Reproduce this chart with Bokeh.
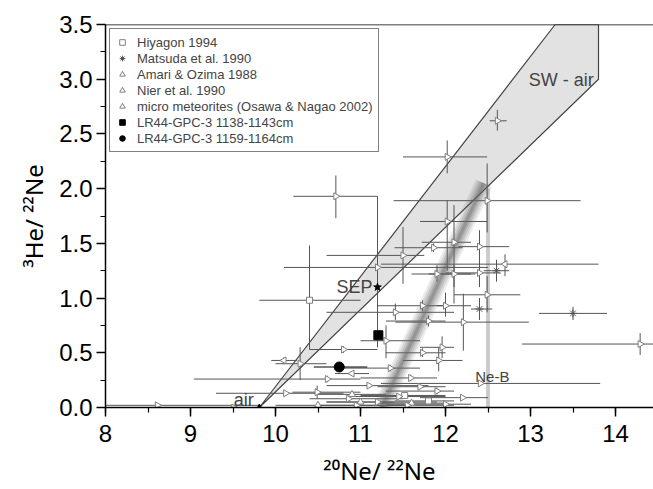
import numpy as np
from bokeh.plotting import figure
from bokeh.models import (Range1d, SingleIntervalTicker, PrintfTickFormatter, Label,
                          Legend, LegendItem, ColumnDataSource, Span)
from bokeh.embed import file_html
from bokeh.resources import INLINE

# ---------------- data ----------------
# micro meteorites (Osawa & Nagao 2002): x, y, error-bar ends
mm_x   = [10.71, 12.61, 12.02, 12.49, 12.02, 11.50, 12.10, 12.40, 12.40, 12.10, 11.90, 12.49, 14.29,
          11.41, 11.73, 12.00, 12.21, 11.80, 11.96, 11.73, 12.41, 12.20, 12.00, 11.92, 11.35, 11.59,
          11.90, 11.30, 10.80, 10.29, 10.61, 10.12, 10.49, 8.61, 9.51, 10.86, 11.86, 11.20,
          11.10, 11.45, 11.20, 11.70, 10.95, 11.55]
mm_y   = [1.93, 2.62, 2.29, 1.89, 1.70, 1.39, 1.51, 1.47, 1.23, 1.22, 1.22, 1.03, 0.58,
          0.87, 0.93, 0.93, 0.78, 0.79, 0.55, 0.50, 0.22, 0.09, 0.03, 0.43, 0.36, 0.27,
          0.15, 0.61, 0.53, 0.40, 0.26, 0.13, 0.14, 0.02, 0.00, 0.08, 1.46, 1.28,
          0.20, 0.10, 0.05, 0.19, 0.02, 0.02]
mm_xlo = [10.21, 12.52, 11.50, 11.39, 11.70, 10.60, 11.72, 12.15, 12.00, 11.60, 11.80, 12.10, 12.90,
          10.60, 11.20, 11.90, 11.41, 11.30, 11.70, 11.30, 11.24, 11.70, 11.30, 11.50, 10.80, 11.00,
          11.30, 11.00, 10.40, 10.00, 9.04, 9.30, 10.20, 8.00, 9.00, 10.40, 11.40, 10.10,
          10.60, 10.90, 10.60, 11.20, 10.50, 11.00]
mm_xhi = [11.20, 12.72, 12.49, 13.59, 12.49, 11.75, 12.30, 12.75, 12.65, 12.35, 12.30, 12.88, 14.60,
          12.10, 12.00, 12.30, 12.98, 12.00, 12.10, 12.00, 13.82, 12.50, 12.30, 12.20, 11.70, 11.90,
          12.10, 11.70, 11.20, 10.60, 11.00, 10.80, 11.00, 9.80, 10.00, 11.50, 12.20, 12.50,
          11.80, 12.00, 11.90, 12.00, 11.60, 12.10]
mm_ylo = [1.73, 2.53, 2.14, 1.60, 1.25, 1.13, 1.10, 1.30, 1.10, 0.95, 1.15, 0.87, 0.48,
          0.80, 0.88, 0.83, 0.52, 0.74, 0.45, 0.46, 0.20, 0.07, 0.01, 0.33, 0.33, 0.24,
          0.12, 0.45, 0.50, 0.25, 0.23, 0.11, 0.08, 0.01, 0.00, 0.06, 1.42, 0.55,
          0.18, 0.08, 0.03, 0.17, 0.00, 0.00]
mm_yhi = [2.12, 2.72, 2.44, 2.23, 1.89, 1.65, 1.85, 1.62, 1.35, 1.30, 1.30, 1.20, 0.68,
          0.95, 0.98, 1.05, 1.04, 0.84, 0.65, 0.54, 0.24, 0.11, 0.05, 0.55, 0.39, 0.30,
          0.18, 0.75, 0.56, 0.55, 0.29, 0.15, 0.20, 0.03, 0.02, 0.10, 1.50, 1.93,
          0.22, 0.12, 0.07, 0.21, 0.04, 0.04]

# Hiyagon 1994
hi_x   = [10.40, 11.52, 11.80]
hi_y   = [0.98, 0.11, 0.06]
hi_xlo = [9.81, 11.00, 11.40]
hi_xhi = [11.00, 12.00, 12.10]
hi_ylo = [0.53, 0.09, 0.04]
hi_yhi = [1.48, 0.13, 0.08]

# Matsuda et al. 1990
ma_x   = [13.50, 12.40, 12.60]
ma_y   = [0.86, 0.90, 1.25]
ma_xlo = [13.10, 12.30, 12.45]
ma_xhi = [13.90, 12.55, 12.75]
ma_ylo = [0.80, 0.80, 1.15]
ma_yhi = [0.92, 1.00, 1.35]

# Amari & Ozima 1988
am_x   = [10.50, 11.00, 11.60, 10.90]
am_y   = [0.02, 0.05, 0.04, 0.12]
am_xlo = [10.00, 10.60, 11.20, 10.50]
am_xhi = [11.00, 11.40, 12.00, 11.30]
am_ylo = [0.00, 0.03, 0.02, 0.10]
am_yhi = [0.04, 0.07, 0.06, 0.14]

# Nier et al. 1990
ni_x   = [12.70, 10.90, 10.10]
ni_y   = [1.31, 0.31, 0.43]
ni_xlo = [11.24, 10.70, 9.95]
ni_xhi = [13.80, 11.10, 10.25]
ni_ylo = [1.20, 0.29, 0.40]
ni_yhi = [1.40, 0.33, 0.46]

# LR44-GPC-3 samples
lr1_x, lr1_y = [11.21], [0.66]
lr2_x, lr2_y = [10.75], [0.37]
lr2_xlo, lr2_xhi = [10.45], [11.08]

# end members / reference lines
air_x, air_y = [9.81], [0.0]
sep_x, sep_y = [11.20], [1.10]
sw_x = [9.81, 13.29, 13.80, 13.80]
sw_y = [0.0, 3.5, 3.5, 3.0]
frac_x = [11.25, 12.45]
frac_y = [0.0, 2.05]
neb_x = [12.5, 12.5]
neb_y = [0.0, 2.0]

x_title = "\u00b2\u2070Ne/ \u00b2\u00b2Ne"
y_title = "\u00b3He/ \u00b2\u00b2Ne"

FONT = "Liberation Sans"
TFONT = "Noto Sans"

p = figure(width=653, height=489, output_backend="svg", toolbar_location=None,
           x_range=Range1d(8, 14.447), y_range=Range1d(0, 3.5),
           min_border_left=105, min_border_right=0, min_border_top=24, min_border_bottom=82)
p.grid.visible = False
p.outline_line_color = None
p.background_fill_color = "white"
p.border_fill_color = "white"

# SW - air band
p.patch(sw_x, sw_y, fill_color="#e2e2e2", line_color="#444444", line_width=1.2)

# Ne-B strip
p.line(neb_x, neb_y, line_color="#cccccc", line_width=4)

ERR = "#555555"
MK = "#808080"

def add_series(x, y, xlo, xhi, ylo, yhi):
    src = ColumnDataSource(dict(x=x, y=y, xlo=xlo, xhi=xhi, ylo=ylo, yhi=yhi))
    p.segment(x0="xlo", y0="y", x1="xhi", y1="y", source=src, line_color=ERR, line_width=1)
    p.segment(x0="x", y0="ylo", x1="x", y1="yhi", source=src, line_color=ERR, line_width=1)
    return src

s_mm = add_series(mm_x, mm_y, mm_xlo, mm_xhi, mm_ylo, mm_yhi)
s_hi = add_series(hi_x, hi_y, hi_xlo, hi_xhi, hi_ylo, hi_yhi)
s_ma = add_series(ma_x, ma_y, ma_xlo, ma_xhi, ma_ylo, ma_yhi)
s_am = add_series(am_x, am_y, am_xlo, am_xhi, am_ylo, am_yhi)
s_ni = add_series(ni_x, ni_y, ni_xlo, ni_xhi, ni_ylo, ni_yhi)
p.segment(x0=lr2_xlo, y0=lr2_y, x1=lr2_xhi, y1=lr2_y, line_color="black", line_width=1)

# fractionation band (blurred gray)
for w, a in [(18, 0.12), (14, 0.15), (10, 0.2), (6, 0.25), (3, 0.3)]:
    p.line(frac_x, frac_y, line_color="#666666", line_width=w, line_alpha=a)

# markers
r_hi = p.scatter("x", "y", source=s_hi, marker="square", size=6, fill_color="white", line_color=MK)
r_ma = p.scatter("x", "y", source=s_ma, marker="asterisk", size=8, line_color="#555555")
r_am = p.scatter("x", "y", source=s_am, marker="triangle", size=7, fill_color="white", line_color=MK)
r_ni = p.scatter("x", "y", source=s_ni, marker="triangle", angle=np.pi / 2, size=7,
                 fill_color="white", line_color=MK)
r_mm = p.scatter("x", "y", source=s_mm, marker="triangle", angle=-np.pi / 2, size=7,
                 fill_color="white", line_color=MK)
r_l1 = p.scatter(lr1_x, lr1_y, marker="square", size=9, fill_color="black", line_color="black")
r_l2 = p.scatter(lr2_x, lr2_y, marker="circle", size=10, fill_color="black", line_color="black")
p.scatter(air_x, air_y, marker="triangle", size=6, fill_color="black", line_color="black")
p.scatter(sep_x, sep_y, marker="star", size=8, fill_color="black", line_color="black")

# top frame line
p.add_layout(Span(location=3.5, dimension="width", line_color="black", line_width=1.5))

# annotations
p.add_layout(Label(x=12.98, y=2.99, text="SW - air", text_font=FONT, text_font_size="18px",
                   text_align="left", text_baseline="alphabetic"))
p.add_layout(Label(x=11.14, y=1.10, text="SEP", text_font=FONT, text_font_size="18px",
                   text_align="right", text_baseline="alphabetic"))
p.add_layout(Label(x=9.51, y=0.065, text="air", text_font=FONT, text_font_size="18px",
                   text_align="left", text_baseline="alphabetic"))
p.add_layout(Label(x=12.35, y=0.283, text="Ne-B", text_font=FONT, text_font_size="15px",
                   text_align="left", text_baseline="alphabetic"))

# axes
for ax in (p.xaxis, p.yaxis):
    ax.axis_line_width = 1.5
    ax.axis_line_color = "black"
    ax.major_tick_line_width = 1.5
    ax.minor_tick_line_width = 1.2
    ax.major_tick_out = 9
    ax.major_tick_in = 0
    ax.minor_tick_out = 5
    ax.minor_tick_in = 0
    ax.major_label_text_font = FONT
    ax.major_label_text_font_size = "24px"
    ax.major_label_text_color = "black"
    ax.axis_label_text_font = TFONT
    ax.axis_label_text_font_size = "24px"
    ax.axis_label_text_font_style = "normal"
    ax.axis_label_text_color = "black"
p.xaxis.ticker = SingleIntervalTicker(interval=1, num_minor_ticks=2)
p.yaxis.ticker = SingleIntervalTicker(interval=0.5, num_minor_ticks=2)
p.yaxis.formatter = PrintfTickFormatter(format="%.1f")
p.xaxis.formatter = PrintfTickFormatter(format="%d")
p.xaxis.major_label_standoff = 8
p.yaxis.major_label_standoff = 4
p.xaxis.axis_label = x_title
p.yaxis.axis_label = y_title
p.xaxis.axis_label_standoff = 9
p.yaxis.axis_label_standoff = 6

legend = Legend(items=[
    LegendItem(label="Hiyagon 1994", renderers=[r_hi]),
    LegendItem(label="Matsuda et al. 1990", renderers=[r_ma]),
    LegendItem(label="Amari & Ozima 1988", renderers=[r_am]),
    LegendItem(label="Nier et al. 1990", renderers=[r_ni]),
    LegendItem(label="micro meteorites (Osawa & Nagao 2002)", renderers=[r_mm]),
    LegendItem(label="LR44-GPC-3 1138-1143cm", renderers=[r_l1]),
    LegendItem(label="LR44-GPC-3 1159-1164cm", renderers=[r_l2]),
], location="top_left", margin=4, padding=5, spacing=0, label_height=16, glyph_height=16,
   glyph_width=14, label_standoff=8, label_text_font=FONT, label_text_font_size="13px",
   border_line_color="black", border_line_width=1, background_fill_alpha=1.0)
p.add_layout(legend)

open("out.html", "w").write(file_html(p, INLINE))
